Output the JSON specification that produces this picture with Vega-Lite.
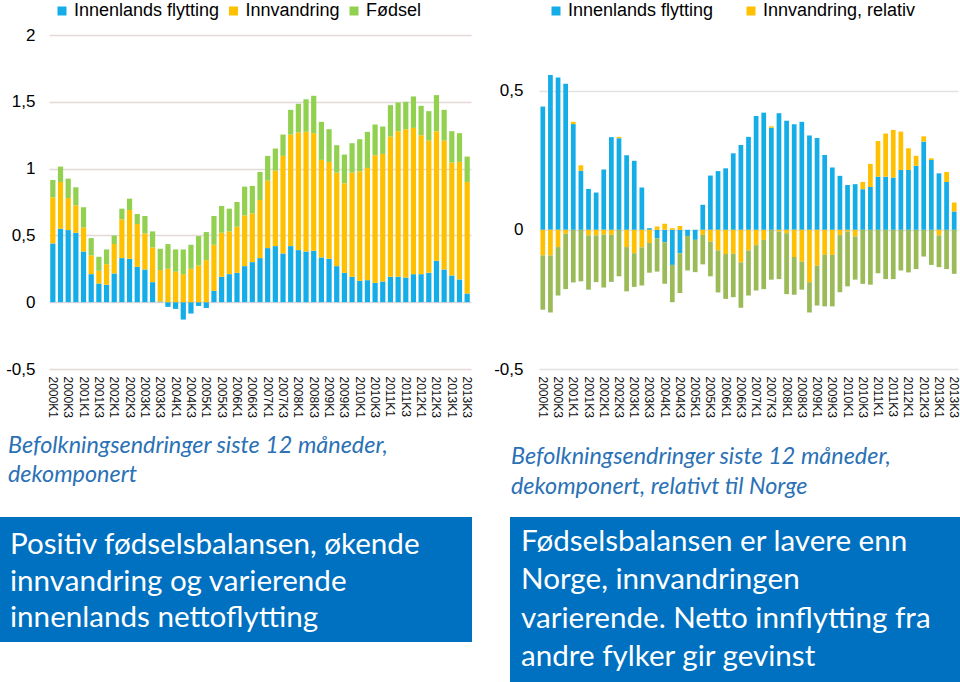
{
  "$schema": "https://vega.github.io/schema/vega-lite/v6.json",
  "padding": 0,
  "autosize": {"type": "pad"},
  "background": "white",
  "config": {
    "view": {"stroke": null},
    "font": "Liberation Sans",
    "axis": {"labelFont": "Liberation Sans", "labelColor": "#000000", "domain": false, "ticks": false, "tickSize": 0, "title": null},
    "legend": {"labelFont": "Liberation Sans", "labelColor": "#000000", "labelFontSize": 18, "symbolType": "square", "symbolSize": 81, "symbolStrokeWidth": 0, "title": null, "labelOffset": 3, "padding": 2}
  },
  "datasets": {
    "venstre": [
      {"kvartal": "2000K1", "Innenlands flytting": 0.44, "Innvandring": 0.345, "Fødsel": 0.13},
      {"kvartal": "2000K2", "Innenlands flytting": 0.55, "Innvandring": 0.35, "Fødsel": 0.115},
      {"kvartal": "2000K3", "Innenlands flytting": 0.54, "Innvandring": 0.24, "Fødsel": 0.145},
      {"kvartal": "2000K4", "Innenlands flytting": 0.52, "Innvandring": 0.205, "Fødsel": 0.135},
      {"kvartal": "2001K1", "Innenlands flytting": 0.38, "Innvandring": 0.18, "Fødsel": 0.15},
      {"kvartal": "2001K2", "Innenlands flytting": 0.21, "Innvandring": 0.14, "Fødsel": 0.13},
      {"kvartal": "2001K3", "Innenlands flytting": 0.14, "Innvandring": 0.095, "Fødsel": 0.105},
      {"kvartal": "2001K4", "Innenlands flytting": 0.13, "Innvandring": 0.155, "Fødsel": 0.11},
      {"kvartal": "2002K1", "Innenlands flytting": 0.215, "Innvandring": 0.22, "Fødsel": 0.065},
      {"kvartal": "2002K2", "Innenlands flytting": 0.33, "Innvandring": 0.29, "Fødsel": 0.08},
      {"kvartal": "2002K3", "Innenlands flytting": 0.325, "Innvandring": 0.365, "Fødsel": 0.085},
      {"kvartal": "2002K4", "Innenlands flytting": 0.265, "Innvandring": 0.32, "Fødsel": 0.075},
      {"kvartal": "2003K1", "Innenlands flytting": 0.245, "Innvandring": 0.27, "Fødsel": 0.13},
      {"kvartal": "2003K2", "Innenlands flytting": 0.15, "Innvandring": 0.26, "Fødsel": 0.12},
      {"kvartal": "2003K3", "Innenlands flytting": 0.005, "Innvandring": 0.235, "Fødsel": 0.16},
      {"kvartal": "2003K4", "Innenlands flytting": -0.035, "Innvandring": 0.25, "Fødsel": 0.185},
      {"kvartal": "2004K1", "Innenlands flytting": -0.05, "Innvandring": 0.228, "Fødsel": 0.167},
      {"kvartal": "2004K2", "Innenlands flytting": -0.13, "Innvandring": 0.21, "Fødsel": 0.185},
      {"kvartal": "2004K3", "Innenlands flytting": -0.085, "Innvandring": 0.25, "Fødsel": 0.18},
      {"kvartal": "2004K4", "Innenlands flytting": -0.028, "Innvandring": 0.275, "Fødsel": 0.22},
      {"kvartal": "2005K1", "Innenlands flytting": -0.043, "Innvandring": 0.315, "Fødsel": 0.21},
      {"kvartal": "2005K2", "Innenlands flytting": 0.085, "Innvandring": 0.345, "Fødsel": 0.215},
      {"kvartal": "2005K3", "Innenlands flytting": 0.19, "Innvandring": 0.33, "Fødsel": 0.2},
      {"kvartal": "2005K4", "Innenlands flytting": 0.21, "Innvandring": 0.32, "Fødsel": 0.17},
      {"kvartal": "2006K1", "Innenlands flytting": 0.22, "Innvandring": 0.345, "Fødsel": 0.185},
      {"kvartal": "2006K2", "Innenlands flytting": 0.27, "Innvandring": 0.38, "Fødsel": 0.215},
      {"kvartal": "2006K3", "Innenlands flytting": 0.3, "Innvandring": 0.365, "Fødsel": 0.205},
      {"kvartal": "2006K4", "Innenlands flytting": 0.33, "Innvandring": 0.435, "Fødsel": 0.21},
      {"kvartal": "2007K1", "Innenlands flytting": 0.405, "Innvandring": 0.505, "Fødsel": 0.185},
      {"kvartal": "2007K2", "Innenlands flytting": 0.42, "Innvandring": 0.565, "Fødsel": 0.165},
      {"kvartal": "2007K3", "Innenlands flytting": 0.365, "Innvandring": 0.73, "Fødsel": 0.16},
      {"kvartal": "2007K4", "Innenlands flytting": 0.42, "Innvandring": 0.835, "Fødsel": 0.185},
      {"kvartal": "2008K1", "Innenlands flytting": 0.39, "Innvandring": 0.88, "Fødsel": 0.215},
      {"kvartal": "2008K2", "Innenlands flytting": 0.38, "Innvandring": 0.895, "Fødsel": 0.245},
      {"kvartal": "2008K3", "Innenlands flytting": 0.385, "Innvandring": 0.88, "Fødsel": 0.28},
      {"kvartal": "2008K4", "Innenlands flytting": 0.335, "Innvandring": 0.73, "Fødsel": 0.285},
      {"kvartal": "2009K1", "Innenlands flytting": 0.325, "Innvandring": 0.725, "Fødsel": 0.245},
      {"kvartal": "2009K2", "Innenlands flytting": 0.27, "Innvandring": 0.7, "Fødsel": 0.205},
      {"kvartal": "2009K3", "Innenlands flytting": 0.22, "Innvandring": 0.67, "Fødsel": 0.215},
      {"kvartal": "2009K4", "Innenlands flytting": 0.19, "Innvandring": 0.78, "Fødsel": 0.22},
      {"kvartal": "2010K1", "Innenlands flytting": 0.16, "Innvandring": 0.82, "Fødsel": 0.24},
      {"kvartal": "2010K2", "Innenlands flytting": 0.165, "Innvandring": 0.84, "Fødsel": 0.27},
      {"kvartal": "2010K3", "Innenlands flytting": 0.145, "Innvandring": 0.955, "Fødsel": 0.23},
      {"kvartal": "2010K4", "Innenlands flytting": 0.155, "Innvandring": 0.955, "Fødsel": 0.205},
      {"kvartal": "2011K1", "Innenlands flytting": 0.19, "Innvandring": 1.05, "Fødsel": 0.235},
      {"kvartal": "2011K2", "Innenlands flytting": 0.19, "Innvandring": 1.09, "Fødsel": 0.215},
      {"kvartal": "2011K3", "Innenlands flytting": 0.185, "Innvandring": 1.11, "Fødsel": 0.205},
      {"kvartal": "2011K4", "Innenlands flytting": 0.21, "Innvandring": 1.095, "Fødsel": 0.235},
      {"kvartal": "2012K1", "Innenlands flytting": 0.21, "Innvandring": 1.04, "Fødsel": 0.22},
      {"kvartal": "2012K2", "Innenlands flytting": 0.22, "Innvandring": 0.99, "Fødsel": 0.22},
      {"kvartal": "2012K3", "Innenlands flytting": 0.31, "Innvandring": 0.97, "Fødsel": 0.27},
      {"kvartal": "2012K4", "Innenlands flytting": 0.245, "Innvandring": 0.965, "Fødsel": 0.23},
      {"kvartal": "2013K1", "Innenlands flytting": 0.2, "Innvandring": 0.845, "Fødsel": 0.235},
      {"kvartal": "2013K2", "Innenlands flytting": 0.17, "Innvandring": 0.88, "Fødsel": 0.215},
      {"kvartal": "2013K3", "Innenlands flytting": 0.065, "Innvandring": 0.835, "Fødsel": 0.19}
    ],
    "hoyre": [
      {"kvartal": "2000K1", "Innenlands flytting": 0.443, "Innvandring, relativ": -0.092, "Fødsel, relativ": -0.195},
      {"kvartal": "2000K2", "Innenlands flytting": 0.556, "Innvandring, relativ": -0.092, "Fødsel, relativ": -0.205},
      {"kvartal": "2000K3", "Innenlands flytting": 0.547, "Innvandring, relativ": -0.062, "Fødsel, relativ": -0.174},
      {"kvartal": "2000K4", "Innenlands flytting": 0.525, "Innvandring, relativ": -0.014, "Fødsel, relativ": -0.199},
      {"kvartal": "2001K1", "Innenlands flytting": 0.38, "Innvandring, relativ": 0.008, "Fødsel, relativ": -0.189},
      {"kvartal": "2001K2", "Innenlands flytting": 0.212, "Innvandring, relativ": 0.02, "Fødsel, relativ": -0.185},
      {"kvartal": "2001K3", "Innenlands flytting": 0.147, "Innvandring, relativ": -0.02, "Fødsel, relativ": -0.195},
      {"kvartal": "2001K4", "Innenlands flytting": 0.134, "Innvandring, relativ": -0.02, "Fødsel, relativ": -0.168},
      {"kvartal": "2002K1", "Innenlands flytting": 0.217, "Innvandring, relativ": -0.017, "Fødsel, relativ": -0.19},
      {"kvartal": "2002K2", "Innenlands flytting": 0.333, "Innvandring, relativ": -0.018, "Fødsel, relativ": -0.169},
      {"kvartal": "2002K3", "Innenlands flytting": 0.329, "Innvandring, relativ": 0.005, "Fødsel, relativ": -0.167},
      {"kvartal": "2002K4", "Innenlands flytting": 0.268, "Innvandring, relativ": -0.062, "Fødsel, relativ": -0.159},
      {"kvartal": "2003K1", "Innenlands flytting": 0.248, "Innvandring, relativ": -0.084, "Fødsel, relativ": -0.121},
      {"kvartal": "2003K2", "Innenlands flytting": 0.152, "Innvandring, relativ": -0.063, "Fødsel, relativ": -0.137},
      {"kvartal": "2003K3", "Innenlands flytting": 0.006, "Innvandring, relativ": -0.047, "Fødsel, relativ": -0.107},
      {"kvartal": "2003K4", "Innenlands flytting": -0.03, "Innvandring, relativ": 0.012, "Fødsel, relativ": -0.12},
      {"kvartal": "2004K1", "Innenlands flytting": -0.045, "Innvandring, relativ": 0.022, "Fødsel, relativ": -0.149},
      {"kvartal": "2004K2", "Innenlands flytting": -0.126, "Innvandring, relativ": 0.006, "Fødsel, relativ": -0.134},
      {"kvartal": "2004K3", "Innenlands flytting": -0.084, "Innvandring, relativ": 0.014, "Fødsel, relativ": -0.143},
      {"kvartal": "2004K4", "Innenlands flytting": -0.022, "Innvandring, relativ": 0, "Fødsel, relativ": -0.124},
      {"kvartal": "2005K1", "Innenlands flytting": -0.036, "Innvandring, relativ": 0, "Fødsel, relativ": -0.116},
      {"kvartal": "2005K2", "Innenlands flytting": 0.09, "Innvandring, relativ": -0.018, "Fødsel, relativ": -0.106},
      {"kvartal": "2005K3", "Innenlands flytting": 0.195, "Innvandring, relativ": -0.042, "Fødsel, relativ": -0.125},
      {"kvartal": "2005K4", "Innenlands flytting": 0.211, "Innvandring, relativ": -0.074, "Fødsel, relativ": -0.151},
      {"kvartal": "2006K1", "Innenlands flytting": 0.221, "Innvandring, relativ": -0.087, "Fødsel, relativ": -0.161},
      {"kvartal": "2006K2", "Innenlands flytting": 0.275, "Innvandring, relativ": -0.086, "Fødsel, relativ": -0.156},
      {"kvartal": "2006K3", "Innenlands flytting": 0.305, "Innvandring, relativ": -0.117, "Fødsel, relativ": -0.163},
      {"kvartal": "2006K4", "Innenlands flytting": 0.334, "Innvandring, relativ": -0.074, "Fødsel, relativ": -0.162},
      {"kvartal": "2007K1", "Innenlands flytting": 0.409, "Innvandring, relativ": -0.055, "Fødsel, relativ": -0.163},
      {"kvartal": "2007K2", "Innenlands flytting": 0.421, "Innvandring, relativ": -0.036, "Fødsel, relativ": -0.177},
      {"kvartal": "2007K3", "Innenlands flytting": 0.367, "Innvandring, relativ": 0.005, "Fødsel, relativ": -0.179},
      {"kvartal": "2007K4", "Innenlands flytting": 0.419, "Innvandring, relativ": -0.006, "Fødsel, relativ": -0.171},
      {"kvartal": "2008K1", "Innenlands flytting": 0.392, "Innvandring, relativ": -0.012, "Fødsel, relativ": -0.219},
      {"kvartal": "2008K2", "Innenlands flytting": 0.379, "Innvandring, relativ": -0.098, "Fødsel, relativ": -0.135},
      {"kvartal": "2008K3", "Innenlands flytting": 0.388, "Innvandring, relativ": -0.114, "Fødsel, relativ": -0.101},
      {"kvartal": "2008K4", "Innenlands flytting": 0.339, "Innvandring, relativ": -0.188, "Fødsel, relativ": -0.109},
      {"kvartal": "2009K1", "Innenlands flytting": 0.33, "Innvandring, relativ": -0.129, "Fødsel, relativ": -0.143},
      {"kvartal": "2009K2", "Innenlands flytting": 0.269, "Innvandring, relativ": -0.09, "Fødsel, relativ": -0.185},
      {"kvartal": "2009K3", "Innenlands flytting": 0.224, "Innvandring, relativ": -0.09, "Fødsel, relativ": -0.185},
      {"kvartal": "2009K4", "Innenlands flytting": 0.194, "Innvandring, relativ": -0.019, "Fødsel, relativ": -0.205},
      {"kvartal": "2010K1", "Innenlands flytting": 0.161, "Innvandring, relativ": -0.006, "Fødsel, relativ": -0.197},
      {"kvartal": "2010K2", "Innenlands flytting": 0.164, "Innvandring, relativ": -0.024, "Fødsel, relativ": -0.155},
      {"kvartal": "2010K3", "Innenlands flytting": 0.146, "Innvandring, relativ": 0.026, "Fødsel, relativ": -0.194},
      {"kvartal": "2010K4", "Innenlands flytting": 0.154, "Innvandring, relativ": 0.083, "Fødsel, relativ": -0.197},
      {"kvartal": "2011K1", "Innenlands flytting": 0.191, "Innvandring, relativ": 0.128, "Fødsel, relativ": -0.156},
      {"kvartal": "2011K2", "Innenlands flytting": 0.191, "Innvandring, relativ": 0.155, "Fødsel, relativ": -0.177},
      {"kvartal": "2011K3", "Innenlands flytting": 0.188, "Innvandring, relativ": 0.171, "Fødsel, relativ": -0.177},
      {"kvartal": "2011K4", "Innenlands flytting": 0.215, "Innvandring, relativ": 0.138, "Fødsel, relativ": -0.146},
      {"kvartal": "2012K1", "Innenlands flytting": 0.215, "Innvandring, relativ": 0.078, "Fødsel, relativ": -0.153},
      {"kvartal": "2012K2", "Innenlands flytting": 0.23, "Innvandring, relativ": 0.036, "Fødsel, relativ": -0.141},
      {"kvartal": "2012K3", "Innenlands flytting": 0.317, "Innvandring, relativ": 0.019, "Fødsel, relativ": -0.096},
      {"kvartal": "2012K4", "Innenlands flytting": 0.251, "Innvandring, relativ": 0.006, "Fødsel, relativ": -0.126},
      {"kvartal": "2013K1", "Innenlands flytting": 0.203, "Innvandring, relativ": -0.02, "Fødsel, relativ": -0.114},
      {"kvartal": "2013K2", "Innenlands flytting": 0.172, "Innvandring, relativ": 0.036, "Fødsel, relativ": -0.141},
      {"kvartal": "2013K3", "Innenlands flytting": 0.066, "Innvandring, relativ": 0.032, "Fødsel, relativ": -0.158}
    ],
    "rekkefolge": [
      {"serie": "Innenlands flytting", "nr": 1},
      {"serie": "Innvandring", "nr": 2},
      {"serie": "Fødsel", "nr": 3},
      {"serie": "Innvandring, relativ", "nr": 2},
      {"serie": "Fødsel, relativ", "nr": 3}
    ]
  },
  "spacing": 15,
  "vconcat": [
    {
      "spacing": 0,
      "resolve": {"scale": {"color": "independent", "x": "independent", "y": "independent"}, "legend": {"color": "independent"}},
      "hconcat": [
        {"width": 5, "height": 10, "data": {"values": []}, "mark": "point"},
        {
          "width": 422,
          "height": 334,
          "data": {"name": "venstre"},
          "transform": [
            {"fold": ["Innenlands flytting", "Innvandring", "Fødsel"], "as": ["serie", "verdi"]},
            {"lookup": "serie", "from": {"data": {"name": "rekkefolge"}, "key": "serie", "fields": ["nr"]}}
          ],
          "mark": {"type": "bar"},
          "encoding": {
            "x": {
              "field": "kvartal", "type": "nominal", "sort": null,
              "scale": {"paddingInner": 0.32, "paddingOuter": 0.16},
              "axis": {
                "values": ["2000K1","2000K3","2001K1","2001K3","2002K1","2002K3","2003K1","2003K3","2004K1","2004K3","2005K1","2005K3","2006K1","2006K3","2007K1","2007K3","2008K1","2008K3","2009K1","2009K3","2010K1","2010K3","2011K1","2011K3","2012K1","2012K3","2013K1","2013K3"],
                "labelAngle": 90, "labelFontSize": 12, "labelPadding": 7, "labelColor": "#111111", "grid": false
              }
            },
            "y": {
              "field": "verdi", "type": "quantitative", "stack": "zero",
              "scale": {"domain": [-0.5, 2], "nice": false, "zero": false},
              "axis": {"values": [-0.5, 0, 0.5, 1, 1.5, 2], "labelExpr": "replace(toString(datum.value), '.', ',')", "grid": true, "gridColor": "#e4d8d8", "gridWidth": 1.3, "labelFontSize": 17, "labelPadding": 14}
            },
            "color": {
              "field": "serie", "type": "nominal",
              "scale": {"domain": ["Innenlands flytting", "Innvandring", "Fødsel"], "range": ["#14ade8", "#ffc000", "#92d050"]},
              "legend": {"orient": "none", "legendX": 2, "legendY": -35, "direction": "horizontal", "columns": 3, "columnPadding": 4.5}
            },
            "order": {"field": "nr", "type": "quantitative", "sort": "ascending"}
          }
        },
        {"width": 20, "height": 10, "data": {"values": []}, "mark": "point"},
        {
          "width": 419,
          "height": 334,
          "data": {"name": "hoyre"},
          "transform": [
            {"fold": ["Innenlands flytting", "Innvandring, relativ", "Fødsel, relativ"], "as": ["serie", "verdi"]},
            {"lookup": "serie", "from": {"data": {"name": "rekkefolge"}, "key": "serie", "fields": ["nr"]}}
          ],
          "mark": {"type": "bar"},
          "encoding": {
            "x": {
              "field": "kvartal", "type": "nominal", "sort": null,
              "scale": {"paddingInner": 0.38, "paddingOuter": 0.19},
              "axis": {
                "values": ["2000K1","2000K3","2001K1","2001K3","2002K1","2002K3","2003K1","2003K3","2004K1","2004K3","2005K1","2005K3","2006K1","2006K3","2007K1","2007K3","2008K1","2008K3","2009K1","2009K3","2010K1","2010K3","2011K1","2011K3","2012K1","2012K3","2013K1","2013K3"],
                "labelAngle": 90, "labelFontSize": 12, "labelPadding": 7, "labelColor": "#111111", "grid": false
              }
            },
            "y": {
              "field": "verdi", "type": "quantitative", "stack": "zero",
              "scale": {"domain": [-0.5, 0.7], "nice": false, "zero": false},
              "axis": {"values": [-0.5, 0, 0.5], "labelExpr": "replace(toString(datum.value), '.', ',')", "grid": true, "gridColor": "#e2e2e2", "gridWidth": 1.3, "labelFontSize": 17, "labelPadding": 16}
            },
            "color": {
              "field": "serie", "type": "nominal",
              "scale": {"domain": ["Innenlands flytting", "Innvandring, relativ", "Fødsel, relativ"], "range": ["#14ade8", "#ffc000", "#9bbb59"]},
              "legend": {"orient": "none", "legendX": 6, "legendY": -35, "direction": "horizontal", "columns": 2, "columnPadding": 28, "values": ["Innenlands flytting", "Innvandring, relativ"]}
            },
            "order": {"field": "nr", "type": "quantitative", "sort": "ascending"}
          }
        }
      ]
    },
    {
      "spacing": 38,
      "hconcat": [
        {
          "width": 472,
          "height": 125,
          "view": {"fill": "#0070c0", "stroke": null},
          "title": {"text": ["Befolkningsendringer siste 12 måneder,", "dekomponert"], "anchor": "start", "dx": 8, "offset": 30, "font": "Lato", "fontStyle": "italic", "fontWeight": "normal", "fontSize": 23.4, "lineHeight": 29, "color": "#2b71b5"},
          "data": {"values": [{"tekst": "Positiv fødselsbalansen, økende\ninnvandring og varierende\ninnenlands nettoflytting"}]},
          "mark": {"type": "text", "align": "left", "baseline": "middle", "lineBreak": "\n", "font": "Lato", "fontSize": 29.6, "lineHeight": 36.5, "color": "white", "dx": 10, "dy": -34.5},
          "encoding": {
            "x": {"datum": 0, "type": "quantitative", "scale": {"domain": [0, 1]}, "axis": null},
            "text": {"field": "tekst"}
          }
        },
        {
          "width": 450,
          "height": 165,
          "view": {"fill": "#0070c0", "stroke": null},
          "title": {"text": ["Befolkningsendringer siste 12 måneder,", "dekomponert, relativt til Norge"], "anchor": "start", "dx": 1, "offset": 18, "font": "Lato", "fontStyle": "italic", "fontWeight": "normal", "fontSize": 23.4, "lineHeight": 30, "color": "#2b71b5"},
          "data": {"values": [{"tekst": "Fødselsbalansen er lavere enn\nNorge, innvandringen\nvarierende. Netto innflytting fra\nandre fylker gir gevinst"}]},
          "mark": {"type": "text", "align": "left", "baseline": "middle", "lineBreak": "\n", "font": "Lato", "fontSize": 29.6, "lineHeight": 38.3, "color": "white", "dx": 11, "dy": -57.5},
          "encoding": {
            "x": {"datum": 0, "type": "quantitative", "scale": {"domain": [0, 1]}, "axis": null},
            "text": {"field": "tekst"}
          }
        }
      ]
    }
  ]
}
